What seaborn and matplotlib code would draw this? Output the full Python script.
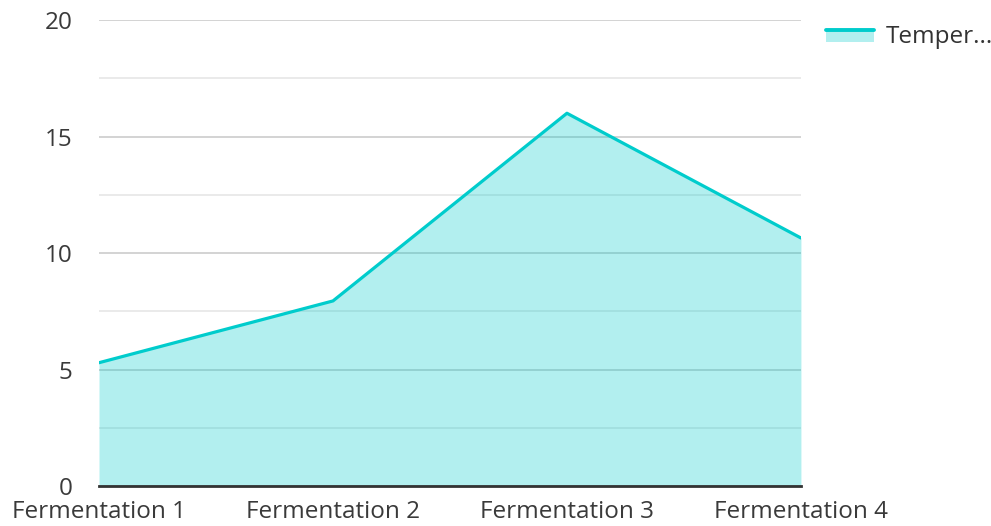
import numpy as np
import pandas as pd
import matplotlib
matplotlib.use("Agg")
import matplotlib.pyplot as plt
import seaborn as sns
from matplotlib.legend_handler import HandlerBase
from matplotlib.patches import Rectangle
from matplotlib.lines import Line2D
from matplotlib.ticker import MultipleLocator

# --- data ---
stages = ["Fermentation 1", "Fermentation 2", "Fermentation 3", "Fermentation 4"]
temperature = [5.3, 7.95, 16.0, 10.65]
series_name = "Temperature"

LINE_COLOR = "#00cccc"

sns.set_theme(style="white")
plt.rcParams["font.family"] = ["Open Sans", "DejaVu Sans"]

df = pd.DataFrame({"stage": stages, "value": temperature})
x_pos = np.arange(len(stages))

fig = plt.figure(figsize=(9.91, 5.26), dpi=100)
ax = fig.add_axes([0.0999, 0.0755, 0.7083, 0.8865])

ax.yaxis.set_major_locator(MultipleLocator(5))
ax.yaxis.set_minor_locator(MultipleLocator(2.5))
ax.grid(which="major", axis="y", color="#cccccc", linewidth=1.2, zorder=0)
ax.grid(which="minor", axis="y", color="#e6e6e6", linewidth=1.2, zorder=0)
ax.set_axisbelow(True)

ax.fill_between(x_pos, 0, df["value"], color=LINE_COLOR, alpha=0.3, linewidth=0, zorder=2)
sns.lineplot(x=x_pos, y=df["value"], ax=ax, color=LINE_COLOR, linewidth=2.3, zorder=3)

ax.set_xlim(0, len(stages) - 1)
ax.set_ylim(0, 20)
ax.set_xticks(x_pos)
ax.set_xticklabels(stages)
ax.set_xlabel("")
ax.set_ylabel("")

for side in ["left", "right", "top"]:
    ax.spines[side].set_visible(False)
ax.spines["bottom"].set_color("#333333")
ax.spines["bottom"].set_linewidth(2)
ax.spines["bottom"].set_zorder(4)

ax.tick_params(axis="both", which="both", length=0, labelsize=17.5, labelcolor="#3a3a3a")
ax.tick_params(axis="x", pad=10)
ax.tick_params(axis="y", pad=19)
for lbl in ax.get_yticklabels():
    lbl.set_horizontalalignment("right")


class AreaLineHandler(HandlerBase):
    def create_artists(self, legend, orig_handle, xdescent, ydescent,
                       width, height, fontsize, trans):
        rect = Rectangle((-xdescent, -ydescent), width, height * 0.8,
                         facecolor=LINE_COLOR, alpha=0.3, linewidth=0, transform=trans)
        line = Line2D([-xdescent, -xdescent + width],
                      [-ydescent + height * 0.8] * 2,
                      color=LINE_COLOR, linewidth=2.8, transform=trans)
        return [rect, line]


label = series_name[:6] + "..."
proxy = Rectangle((0, 0), 1, 1)
leg = fig.legend([proxy], [label], handler_map={Rectangle: AreaLineHandler()},
                 loc="upper left", bbox_to_anchor=(0.826, 0.966), frameon=False,
                 fontsize=17.5, handlelength=2.0, handleheight=0.55, handletextpad=0.45,
                 borderaxespad=0, borderpad=0.3)
for t in leg.get_texts():
    t.set_color("#333333")

fig.savefig("out.png", dpi=100)
